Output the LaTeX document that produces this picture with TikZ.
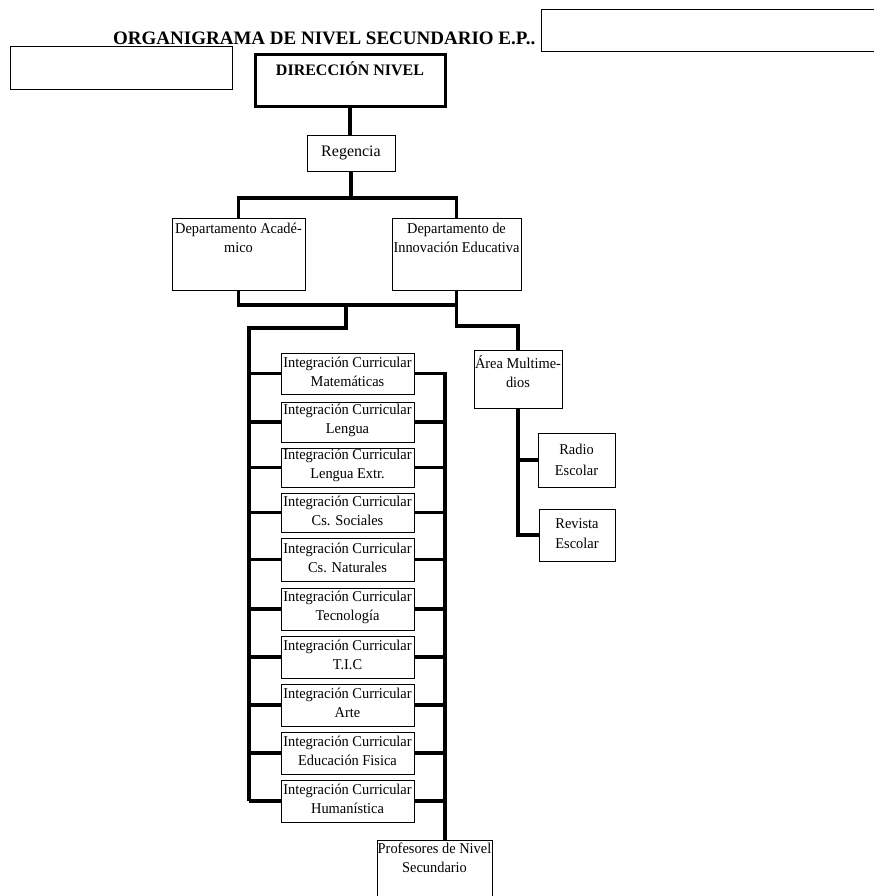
\documentclass[tikz,border=0pt]{standalone}
\usepackage{fontspec}
\setmainfont{Liberation Serif}
\newfontfamily\boxfont{Liberation Serif}[FakeStretch=0.96]
% rectangle node given by its corners: [options]{name}{x1}{y1}{x2}{y2}
\newcommand\orgbox[6][]{%
  \node[box,#1,minimum width={#5-#3},minimum height={#6-#4}] (#2)
    at ({(#3+#5)/2},{(#4+#6)/2}) {};}
\begin{document}
\begin{tikzpicture}[x=1pt,y=-1pt,
  box/.style={draw, line width=1pt, inner sep=0pt, outer sep=0pt},
  thickbox/.style={line width=3pt},
  conn/.style={line width=3.5pt},
  lbl/.style={font=\boxfont\fontsize{15}{19}\selectfont, align=center, inner sep=0pt},
  toplbl/.style={lbl, anchor=north},
]
\useasboundingbox (0,0) rectangle (874,896);

% heading and blank fields
\node[font=\fontsize{19}{22}\selectfont\bfseries, anchor=west, inner sep=0pt]
  (title) at (113,38) {ORGANIGRAMA DE NIVEL SECUNDARIO E.P..};
\orgbox{field1}{541}{10}{884}{52}
\orgbox{field2}{10}{47}{232}{90}

% direction
\orgbox[thickbox]{dir}{255}{55}{445}{107}
\node[font=\fontsize{16}{19}\selectfont\bfseries, anchor=north, inner sep=0pt]
  (dirt) at ([yshift=-7pt]dir.north) {DIRECCIÓN NIVEL};

\orgbox{reg}{307}{136}{395}{172}
\node[lbl, font=\fontsize{16}{19}\selectfont] (regt) at ([yshift=1pt]reg.center) {Regencia};

% departments
\orgbox{acad}{172}{218}{305}{290}
\node[toplbl] (acadt) at ([yshift=-5pt]acad.north) {Departamento Acadé-\\mico};
\orgbox{innov}{392}{218}{521}{290}
\node[toplbl] (innovt) at ([yshift=-5pt]innov.north) {Departamento de\\Innovación Educativa};

% multimedia area
\orgbox{multi}{474}{350}{562}{408}
\node[toplbl] (multit) at ([yshift=-5pt]multi.north) {Área Multime-\\dios};
\orgbox{radio}{538}{433}{615}{487}
\node[lbl, font=\boxfont\fontsize{15}{21}\selectfont] (radiot) at (radio.center) {Radio\\Escolar};
\orgbox{revista}{539}{509}{615}{561}
\node[lbl, font=\boxfont\fontsize{15}{20}\selectfont] (revistat) at ([yshift=1pt]revista.center) {Revista\\Escolar};

% teachers
\orgbox{prof}{377}{840}{492}{910}
\node[toplbl] (proft) at ([yshift=-3pt]prof.north) {Profesores de Nivel\\Secundario};

% junctions
\coordinate (j1) at (351,198);
\coordinate (j2) at (346,305);
\coordinate (j3) at (249,328);
\coordinate (j4) at (456.5,326);
\coordinate (rs) at (445,372);

% curricular integration boxes
\foreach \n/\ya/\yb/\t in {1/353/394/Matemáticas, 2/402/442/Lengua,
    3/448/487/Lengua Extr., 4/493/532/Cs. Sociales, 5/538/581/Cs. Naturales,
    6/588/630/Tecnología, 7/636/678/T.I.C, 8/684/726/Arte,
    9/732/774/Educación Fisica, 10/780/822/Humanística}{
  \orgbox{ic\n}{281}{\ya}{414}{\yb}
  \node[lbl] (ict\n) at ([yshift=2pt]ic\n.center) {Integración Curricular\\\t};
}

% connectors
\draw[conn] (dir.south) -- (dir.south |- reg.north);
\draw[conn] (reg.south) -- (j1);
\draw[conn] (acad.north) |- (j1) -| (innov.north);
\draw[conn] (acad.south) |- (j2) -| (innov.south);
\draw[conn] (j2) |- (j3) -- (j3 |- ic10.west);
\draw[conn] (innov.south) -- (j4) -| (multi.north);
\draw[conn] (multi.south) |- (revista.west);
\draw[conn] (multi.south |- radio.west) -- (radio.west);
\draw[conn] (ic1.east) -| (rs |- prof.north);
\foreach \n in {1,...,10}{
  \draw[conn] (j3 |- ic\n.west) -- (ic\n.west);
  \draw[conn] (ic\n.east) -- (rs |- ic\n.east);
}
\end{tikzpicture}
\end{document}
